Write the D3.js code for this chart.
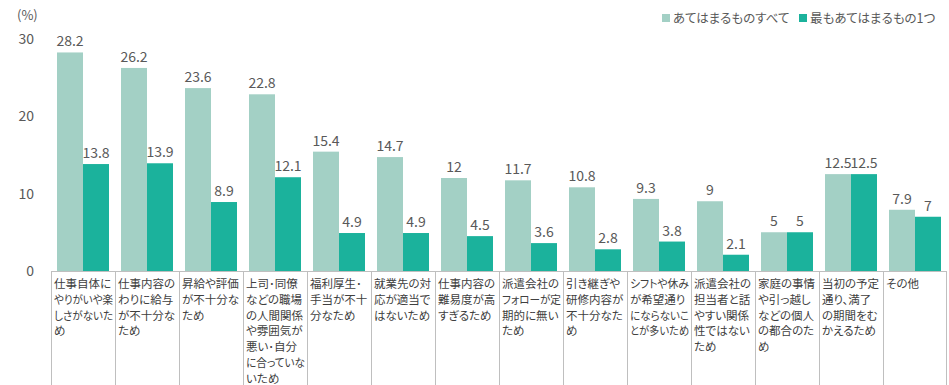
<!DOCTYPE html>
<html><head><meta charset="utf-8">
<script src="https://cdn.jsdelivr.net/npm/d3@7"></script>
<style>body{margin:0;background:#fff;}svg{display:block;}text{font-feature-settings:"palt";}</style>
</head><body>
<svg id="c" width="949" height="385"></svg>
<script>
const categories = [
  "仕事自体に\nやりがいや楽\nしさがないた\nめ",
  "仕事内容の\nわりに給与\nが不十分な\nため",
  "昇給や評価\nが不十分な\nため",
  "上司･同僚\nなどの職場\nの人間関係\nや雰囲気が\n悪い･自分\nに合っていな\nいため",
  "福利厚生･\n手当が不十\n分なため",
  "就業先の対\n応が適当で\nはないため",
  "仕事内容の\n難易度が高\nすぎるため",
  "派遣会社の\nフォローが定\n期的に無い\nため",
  "引き継ぎや\n研修内容が\n不十分なた\nめ",
  "シフトや休み\nが希望通り\nにならないこ\nとが多いため",
  "派遣会社の\n担当者と話\nやすい関係\n性ではない\nため",
  "家庭の事情\nや引っ越し\nなどの個人\nの都合のた\nめ",
  "当初の予定\n通り、満了\nの期間をむ\nかえるため",
  "その他"
];
const seriesNames = ["あてはまるものすべて", "最もあてはまるもの1つ"];
const valuesAll = [28.2, 26.2, 23.6, 22.8, 15.4, 14.7, 12, 11.7, 10.8, 9.3, 9, 5, 12.5, 7.9];
const valuesOne = [13.8, 13.9, 8.9, 12.1, 4.9, 4.9, 4.5, 3.6, 2.8, 3.8, 2.1, 5, 12.5, 7];
const yTicks = [0, 10, 20, 30];
const colors = ["#A3D0C5", "#1BB29C"];

const svg = d3.select("#c");
const font = "'Noto Sans CJK JP', 'Noto Sans', sans-serif";
const left = 51, right = 947, y0 = 271, yTop = 38.5;

const x = d3.scaleBand().domain(d3.range(categories.length)).range([left, right]).padding(0);
const y = d3.scaleLinear().domain([0, 30]).range([y0, yTop]);
const inner = d3.scaleBand().domain([0, 1]).range([6, x.bandwidth() - 6]).padding(0);

// y tick labels
svg.append("g").selectAll("text").data(yTicks).join("text")
  .attr("x", 34).attr("y", d => y(d)).attr("dy", "0.36em")
  .attr("text-anchor", "end").attr("font-family", font).attr("font-size", 14)
  .attr("fill", "#595959").text(d => d);
svg.append("text").attr("x", 17).attr("y", 20).attr("font-family", font)
  .attr("font-size", 13).attr("fill", "#595959").text("(%)");

// bars
const series = [valuesAll, valuesOne];
series.forEach((vals, si) => {
  const g = svg.append("g");
  g.selectAll("rect").data(vals).join("rect")
    .attr("x", (d, i) => x(i) + inner(si))
    .attr("y", d => y(d))
    .attr("width", inner.bandwidth())
    .attr("height", d => y0 - y(d))
    .attr("fill", colors[si]);
  g.selectAll("text").data(vals).join("text")
    .attr("x", (d, i) => x(i) + inner(si) + inner.bandwidth() / 2)
    .attr("y", d => y(d) - 6)
    .attr("text-anchor", "middle").attr("font-family", font).attr("font-size", 14)
    .attr("fill", "#595959").text(d => d);
});

// category table lines
const grid = svg.append("g").attr("stroke", "#BFBFBF").attr("stroke-width", 1);
grid.append("line").attr("x1", left).attr("x2", right).attr("y1", y0 + 0.5).attr("y2", y0 + 0.5);
grid.selectAll("line.v").data(d3.range(categories.length + 1)).join("line").attr("class", "v")
  .attr("x1", i => (i < categories.length ? x(i) : right - 1) + 0.5)
  .attr("x2", i => (i < categories.length ? x(i) : right - 1) + 0.5)
  .attr("y1", y0).attr("y2", 385);

// category labels
const lab = svg.append("g");
const maxW = x.bandwidth() - 5;
categories.forEach((c, i) => {
  c.split("\n").forEach((ln, k) => {
    const t = lab.append("text").attr("font-family", font).attr("font-size", 11.5).attr("fill", "#404040")
      .attr("x", x(i) + 3).attr("y", y0 + 17 + k * 15.8).text(ln);
    const w = t.node().getComputedTextLength();
    if (w > maxW) t.attr("textLength", maxW).attr("lengthAdjust", "spacingAndGlyphs");
  });
});

// legend
const lg = svg.append("g");
const lx = [662, 799];
seriesNames.forEach((n, i) => {
  lg.append("rect").attr("x", lx[i]).attr("y", 14).attr("width", 8).attr("height", 8).attr("fill", colors[i]);
  lg.append("text").attr("x", lx[i] + 11).attr("y", 23).attr("font-family", font)
    .attr("font-size", 12.5).attr("fill", "#595959").text(n);
});
</script>
</body></html>
